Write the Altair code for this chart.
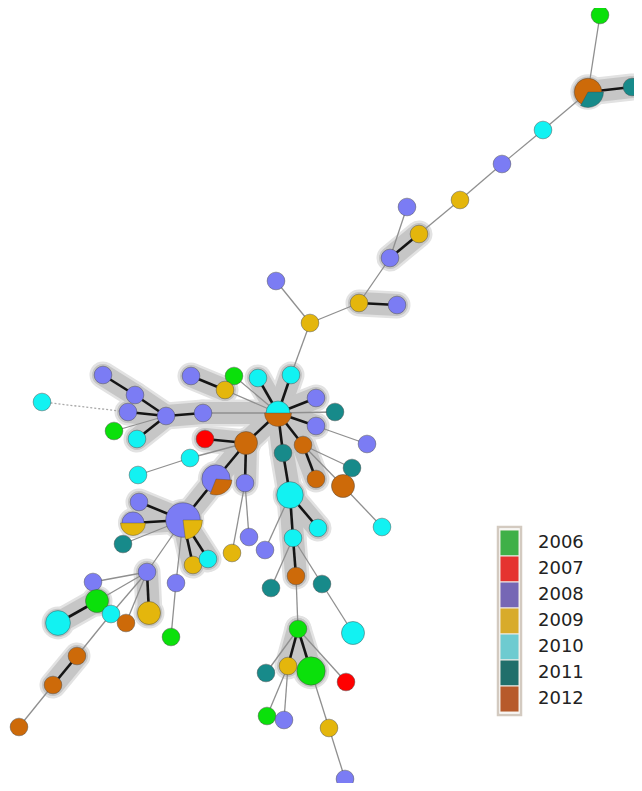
import altair as alt
import pandas as pd

# ---------------- data ----------------
years = ["2006", "2007", "2008", "2009", "2010", "2011", "2012"]
node_colors = ["#0be00b", "#ff0000", "#7b7cf4", "#e4b60c", "#12f2f2", "#178a8a", "#cd6a09"]
legend_colors = ["#3fb048", "#e53330", "#7667b5", "#d8ab2b", "#6ecbd0", "#206f6b", "#b75a2b"]

node_id = list(range(1, 81))
node_x = [600, 588, 632, 543, 502, 460, 419, 407, 390, 359,
          397, 276, 310, 278, 258, 291, 316, 335, 316, 367,
          234, 225, 191, 246, 283, 303, 352, 316, 343, 382,
          290, 318, 293, 296, 271, 322, 353, 298, 266, 288,
          311, 346, 267, 284, 329, 345, 203, 166, 103, 135,
          128, 114, 137, 42, 205, 190, 138, 216, 245, 183,
          139, 133, 123, 193, 208, 147, 176, 232, 249, 265,
          93, 97, 58, 111, 126, 149, 171, 77, 53, 19]
node_y = [15, 92, 87, 130, 164, 200, 234, 207, 258, 303,
          305, 281, 323, 413, 378, 375, 398, 412, 426, 444,
          376, 390, 376, 443, 453, 445, 468, 479, 486, 527,
          495, 528, 538, 576, 588, 584, 633, 629, 673, 666,
          671, 682, 716, 720, 728, 779, 413, 416, 375, 395,
          412, 431, 439, 402, 439, 458, 475, 479, 483, 520,
          502, 523, 544, 565, 559, 572, 583, 553, 537, 550,
          582, 601, 623, 614, 623, 613, 637, 656, 685, 727]
node_r = [10, 15.5, 10, 10, 10, 10, 10, 10, 10, 10,
          10, 10, 10, 13.5, 10, 10, 10, 10, 10, 10,
          10, 10, 10, 13, 10, 10, 10, 10, 13, 10,
          15, 10, 10, 10, 10, 10, 13, 10, 10, 10,
          16, 10, 10, 10, 10, 10, 10, 10, 10, 10,
          10, 10, 10, 10, 10, 10, 10, 16, 10, 19.5,
          10, 12.5, 10, 10, 10, 10, 10, 10, 10, 10,
          10, 13, 14, 10, 10, 13, 10, 10, 10, 10]
node_year = ["2006", "2012", "2011", "2010", "2008", "2009", "2009", "2008", "2008", "2009",
             "2008", "2008", "2009", "2010", "2010", "2010", "2008", "2011", "2008", "2008",
             "2006", "2009", "2008", "2012", "2011", "2012", "2011", "2012", "2012", "2010",
             "2010", "2010", "2010", "2012", "2011", "2011", "2010", "2006", "2011", "2009",
             "2006", "2007", "2006", "2008", "2009", "2008", "2008", "2008", "2008", "2008",
             "2008", "2006", "2010", "2010", "2007", "2010", "2010", "2008", "2008", "2008",
             "2008", "2008", "2011", "2009", "2010", "2008", "2008", "2009", "2008", "2008",
             "2008", "2006", "2010", "2010", "2012", "2009", "2006", "2012", "2012", "2012"]

# pie slices of mixed nodes (fraction of the circle, clockwise from 12 o'clock)
pie_node = [2, 14, 58, 60, 62]
pie_year = ["2011", "2012", "2012", "2009", "2009"]
pie_from = [0.25, 0.25, 0.26, 0.25, 0.25]
pie_to = [0.58, 0.75, 0.56, 0.48, 0.75]

# links: T = close link (black, halo), t = distant link (grey), d = dashed
edge_src = [1, 2, 2, 4, 5, 6, 7, 8, 9, 10, 10, 12, 13,
            14, 14, 14, 14, 14, 14, 14, 14, 14, 14, 14,
            23, 19, 26, 26, 26, 29, 25, 31, 31, 31, 33, 33, 33, 36, 34,
            38, 38, 38, 38, 40, 40, 41, 45,
            47, 48, 50, 48, 48, 48, 51,
            24, 24, 56, 24, 24, 58, 60, 60, 60, 60, 60, 60, 60,
            59, 59, 66, 66, 66, 74, 66, 66, 72, 78, 79, 67]
edge_dst = [2, 3, 4, 5, 6, 7, 9, 9, 10, 11, 13, 13, 16,
            15, 16, 17, 18, 19, 26, 25, 24, 21, 22, 47,
            22, 20, 28, 29, 27, 30, 31, 32, 33, 70, 34, 35, 36, 37, 38,
            39, 40, 41, 42, 43, 44, 45, 46,
            48, 50, 49, 51, 52, 53, 54,
            55, 56, 57, 58, 59, 60, 61, 62, 63, 64, 65, 66, 67,
            68, 69, 71, 72, 74, 78, 75, 76, 73, 79, 80, 77]
edge_kind = ["t", "T", "t", "t", "t", "t", "T", "t", "t", "T", "t", "t", "t",
             "T", "T", "T", "t", "T", "T", "T", "T", "t", "t", "t",
             "T", "t", "T", "t", "t", "t", "T", "T", "T", "t", "T", "t", "t", "t", "t",
             "t", "T", "T", "t", "t", "t", "t", "t",
             "T", "T", "T", "T", "t", "T", "d",
             "T", "t", "t", "T", "T", "T", "T", "T", "t", "T", "T", "t", "t",
             "t", "t", "t", "t", "t", "t", "t", "T", "T", "T", "t", "t"]
# extra halo band without a close link
halo_src = [47]
halo_dst = [14]

# ---------------- tables ----------------
nodes = pd.DataFrame({"id": node_id, "x": node_x, "y": node_y, "r": node_r, "year": node_year})
pos = nodes.set_index("id")


def link_table(src, dst, kind=None):
    df = pd.DataFrame({"s": src, "d": dst})
    if kind is not None:
        df["kind"] = kind
    df["x"] = df["s"].map(pos["x"])
    df["y"] = df["s"].map(pos["y"])
    df["x2"] = df["d"].map(pos["x"])
    df["y2"] = df["d"].map(pos["y"])
    return df


edges = link_table(edge_src, edge_dst, edge_kind)
thick = edges[edges["kind"] == "T"]
thin = edges[edges["kind"] == "t"]
dashed = edges[edges["kind"] == "d"]
halo_links = pd.concat([thick, link_table(halo_src, halo_dst)], ignore_index=True)
halo_ids = sorted(set(halo_links["s"]).union(set(halo_links["d"])))
halo_nodes = nodes[nodes["id"].isin(halo_ids)]

pies = pd.DataFrame({"id": pie_node, "year": pie_year, "f0": pie_from, "f1": pie_to})
pies["x"] = pies["id"].map(pos["x"])
pies["y"] = pies["id"].map(pos["y"])
pies["r"] = pies["id"].map(pos["r"])

# ---------------- chart ----------------
W, H = 626, 775
xs = alt.Scale(domain=[8, 8 + W], nice=False, zero=False)
ys = alt.Scale(domain=[8, 8 + H], nice=False, zero=False, reverse=True)
X = alt.X("x:Q", scale=xs, axis=None)
Y = alt.Y("y:Q", scale=ys, axis=None)
year_color = alt.Color("year:N", scale=alt.Scale(domain=years, range=node_colors), legend=None)


def rules(df, color, width, **kw):
    return alt.Chart(df).mark_rule(color=color, strokeWidth=width, **kw).encode(
        x=X, y=Y, x2="x2:Q", y2="y2:Q")


def halo_circles(extra, color):
    return alt.Chart(halo_nodes).transform_calculate(
        a=f"PI*pow(datum.r+{extra},2)"
    ).mark_circle(color=color, opacity=1).encode(x=X, y=Y, size=alt.Size("a:Q", scale=None))


halo_outer = rules(halo_links, "#e2e2e2", 27, strokeCap="round")
halo_outer_c = halo_circles(4.5, "#e2e2e2")
halo_inner = rules(halo_links, "#c6c6c6", 22, strokeCap="round")
halo_inner_c = halo_circles(2, "#c6c6c6")

thin_l = rules(thin, "#8f8f8f", 1.3)
dash_l = rules(dashed, "#a8a8a8", 1.3, strokeDash=[2, 2])
thick_l = rules(thick, "#151515", 2.6)

circles = alt.Chart(nodes).transform_calculate(
    a="PI*pow(datum.r,2)"
).mark_circle(opacity=1, stroke="#444444", strokeWidth=1, strokeOpacity=0.45).encode(
    x=X, y=Y, size=alt.Size("a:Q", scale=None), color=year_color)

wedges = alt.Chart(pies).transform_calculate(
    t0="datum.f0*2*PI", t1="datum.f1*2*PI"
).mark_arc(stroke="#444444", strokeWidth=0.8, strokeOpacity=0.45).encode(
    x=X, y=Y,
    theta=alt.Theta("t0:Q", scale=None), theta2="t1:Q",
    radius=alt.Radius("r:Q", scale=None),
    color=year_color)

main = alt.layer(halo_outer, halo_outer_c, halo_inner, halo_inner_c,
                 thin_l, dash_l, thick_l, circles, wedges)

# legend
leg = pd.DataFrame({"year": years})
leg_y = alt.Scale(domain=years, range=[522, 704], paddingInner=0, paddingOuter=0)
frame = alt.Chart(pd.DataFrame({"k": [0]})).mark_rect(
    fill="#ffffff", stroke="#d3cac0", strokeWidth=2.5).encode(
    x=alt.value(490), x2=alt.value(513), y=alt.value(519), y2=alt.value(707))
blocks = alt.Chart(leg).mark_rect(stroke="#f1ece6", strokeWidth=1).encode(
    x=alt.value(492), x2=alt.value(511),
    y=alt.Y("year:N", scale=leg_y, axis=None),
    color=alt.Color("year:N", scale=alt.Scale(domain=years, range=legend_colors), legend=None))
labels = alt.Chart(leg).mark_text(
    align="left", baseline="middle", fontSize=18, font="DejaVu Sans", color="#222222").encode(
    x=alt.value(530), y=alt.Y("year:N", scale=leg_y, axis=None), text="year:N")
legend = alt.layer(frame, blocks, labels)

chart = alt.layer(main, legend).resolve_scale(
    x="independent", y="independent", color="independent"
).properties(width=W, height=H, padding=0, autosize="none", background="#ffffff"
).configure_view(stroke=None)

chart.save("out.html", embed_options={"renderer": "svg", "actions": False})
